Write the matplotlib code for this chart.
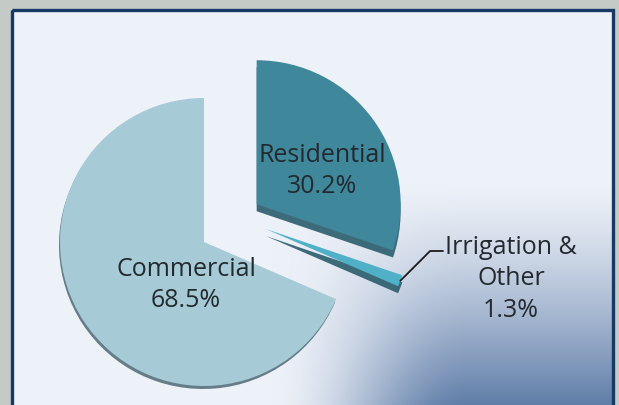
import numpy as np
import matplotlib
matplotlib.use("Agg")
import matplotlib.pyplot as plt
from matplotlib.patches import Wedge, Rectangle

# slices, drawn clockwise from 12 o'clock
labels = ["Residential", "Irrigation &\nOther", "Commercial"]
shares = [30.2, 1.3, 68.5]

top_colors = ["#3f879b", "#4fb0c8", "#a6cad6"]
side_colors = ["#2b5d6b", "#2b5d6b", "#55707b"]

W, H = 619, 406
fig = plt.figure(figsize=(W / 100, H / 100), dpi=100)

# background: grey outer frame + light panel that darkens to the lower right
bg = fig.add_axes([0, 0, 1, 1])
yy, xx = np.mgrid[0:H, 0:W]
outer = np.array([196, 202, 198]) / 255.0
light = np.array([237, 241, 248]) / 255.0
dark = np.array([95, 125, 168]) / 255.0
v = np.clip((yy - 185) / (H - 185.0), 0, 1) ** 1.3
h = np.clip((xx - 270) / 200.0, 0, 1)
h = h * h * (3 - 2 * h)
t = (v * h)[..., None]
img = light + (dark - light) * t
inside = (xx >= 13) & (xx <= 612) & (yy >= 11)
img = np.where(inside[..., None], img, outer)
bg.imshow(img, extent=(0, W, H, 0), aspect="auto", interpolation="bilinear")
bg.add_patch(Rectangle((12, 10.5), 601, 400, fill=False, ec="#163a63", lw=2.4))
bg.set_xlim(0, W)
bg.set_ylim(H, 0)
bg.axis("off")

# pie axes: 1 data unit = 144 px, commercial apex at (204, 243)
R = 144.0
cx, cy = 204.0, H - 243.0
ax = fig.add_axes([0, 0, 1, 1])
ax.patch.set_alpha(0)

wedges, _ = ax.pie(shares, explode=[0.45, 0.45, 0], startangle=90,
                   counterclock=False, colors=top_colors, radius=1,
                   wedgeprops=dict(linewidth=0))
# the thin slice sits a little higher than a plain explode would put it
wedges[1].set_center((0.43, 0.09))

depth = [7 / R, 7 / R, 3 / R]
lean = [0, 0, 1 / R]
for w, side, dz, dx in zip(wedges, side_colors, depth, lean):
    x0, y0 = w.center
    w.set_zorder(3)
    ax.add_patch(Wedge((x0 - dx, y0 - dz), w.r, w.theta1, w.theta2,
                       fc=side, ec="none", zorder=2, alpha=0.9))

ax.set_aspect("auto")
ax.set_xlim(-cx / R, (W - cx) / R)
ax.set_ylim(-cy / R, (H - cy) / R)
ax.axis("off")

font = dict(family=["Open Sans", "DejaVu Sans"], fontsize=18,
            color="#232a2f", ha="center", va="center", linespacing=1.35)

ax.text(322 / W, 1 - 171 / H, f"{labels[0]}\n{shares[0]}%",
        transform=ax.transAxes, zorder=5, **font)
ax.text(186 / W, 1 - 285 / H, f"{labels[2]}\n{shares[2]}%",
        transform=ax.transAxes, zorder=5, **font)
ax.text(511 / W, 1 - 279 / H, f"{labels[1]}\n{shares[1]}%",
        transform=ax.transAxes, zorder=5, **font)

# leader line from the tip of the thin slice
sl = wedges[1]
mid = np.deg2rad((sl.theta1 + sl.theta2) / 2)
tip = (sl.center[0] + np.cos(mid), sl.center[1] + np.sin(mid))
ax.annotate("", xy=tip, xytext=(443 / W, 1 - 252 / H),
            textcoords="axes fraction",
            arrowprops=dict(arrowstyle="-", color="#1a1a1a", lw=1.3,
                            shrinkA=0, shrinkB=0,
                            connectionstyle="angle,angleA=0,angleB=45"),
            zorder=5)

fig.savefig("out.png", dpi=100)
